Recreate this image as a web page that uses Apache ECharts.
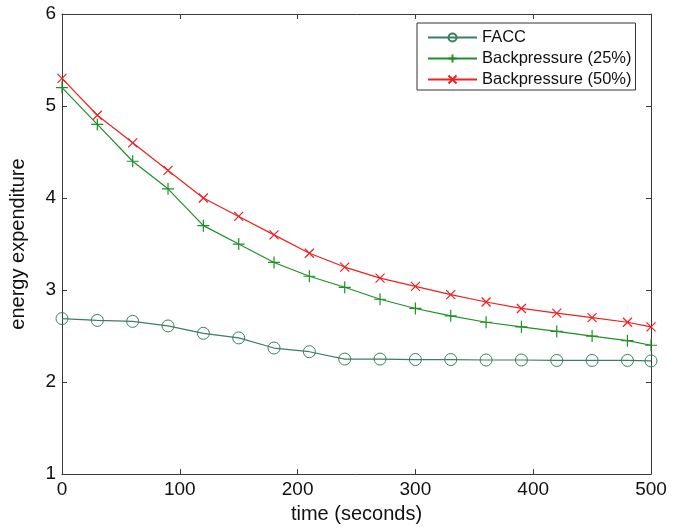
<!DOCTYPE html>
<html>
<head>
<meta charset="utf-8">
<script src="https://cdn.jsdelivr.net/npm/echarts@6/dist/echarts.min.js"></script>
<style>html,body{margin:0;padding:0;background:#fff}#c{width:683px;height:529px}</style>
</head>
<body>
<div id="c"></div>
<script>
var times = [0, 30, 60, 90, 120, 150, 180, 210, 240, 270, 300, 330, 360, 390, 420, 450, 480, 500];
var facc = [2.69, 2.67, 2.66, 2.61, 2.53, 2.48, 2.37, 2.33, 2.25, 2.25, 2.245, 2.245, 2.24, 2.24, 2.235, 2.235, 2.235, 2.23];
var bp25 = [5.2, 4.8, 4.4, 4.1, 3.7, 3.5, 3.3, 3.15, 3.03, 2.9, 2.8, 2.72, 2.65, 2.6, 2.55, 2.5, 2.45, 2.4];
var bp50 = [5.3, 4.9, 4.6, 4.3, 4.0, 3.8, 3.6, 3.4, 3.25, 3.13, 3.04, 2.95, 2.87, 2.8, 2.75, 2.7, 2.65, 2.6];
var seriesNames = ['FACC', 'Backpressure (25%)', 'Backpressure (50%)'];
var xTitle = 'time (seconds)';
var yTitle = 'energy expenditure';

function pairs(ys) { return times.map(function (t, i) { return [t, ys[i]]; }); }

var FONT = 'Liberation Sans';
var axisCol = '#3a3a3a';
var cFacc = '#3a7f62', c25 = '#1f8f26', c50 = '#ee2020';
var plusPath = 'path://M5,0 L5,10 M0,5 L10,5';
var crossPath = 'path://M0,0 L10,10 M0,10 L10,0';

var chart = echarts.init(document.getElementById('c'), null, {renderer: 'canvas'});
function secAxis(pos, isX) {
  return {
    type: 'value', position: pos, min: isX ? 0 : 1, max: isX ? 500 : 6, interval: isX ? 100 : 1,
    axisLine: {show: true, onZero: false, lineStyle: {color: axisCol, width: 1}},
    axisTick: {show: true, inside: true, length: 5, lineStyle: {color: axisCol}},
    axisLabel: {show: false}, splitLine: {show: false}
  };
}
chart.setOption({
  animation: false,
  backgroundColor: '#fff',
  textStyle: {fontFamily: FONT},
  grid: {left: 61, right: 32, top: 14, bottom: 52, containLabel: false},
  legend: {
    left: 417, top: 23, width: 220,
    orient: 'vertical',
    data: seriesNames,
    itemWidth: 49, itemHeight: 10, itemGap: 4,
    padding: [6, 4, 2, 10],
    borderColor: '#333', borderWidth: 1, backgroundColor: '#fff',
    textStyle: {fontFamily: FONT, fontSize: 16.5, color: '#111'}
  },
  xAxis: [{
    type: 'value', min: 0, max: 500, interval: 100,
    name: xTitle, nameLocation: 'middle', nameGap: 29,
    nameTextStyle: {fontFamily: FONT, fontSize: 20, color: '#111'},
    axisLine: {show: true, onZero: false, lineStyle: {color: axisCol, width: 1}},
    axisTick: {show: true, inside: true, length: 5, lineStyle: {color: axisCol}},
    axisLabel: {fontFamily: FONT, fontSize: 19, color: '#111', margin: 6},
    splitLine: {show: false}
  }, secAxis('top', true)],
  yAxis: [{
    type: 'value', min: 1, max: 6, interval: 1,
    name: yTitle, nameLocation: 'middle', nameGap: 34, nameRotate: 90,
    nameTextStyle: {fontFamily: FONT, fontSize: 20, color: '#111'},
    axisLine: {show: true, onZero: false, lineStyle: {color: axisCol, width: 1}},
    axisTick: {show: true, inside: true, length: 5, lineStyle: {color: axisCol}},
    axisLabel: {fontFamily: FONT, fontSize: 19, color: '#111', margin: 6},
    splitLine: {show: false}
  }, secAxis('right', false)],
  series: [
    {name: seriesNames[0], type: 'line', data: pairs(facc), symbol: 'circle', symbolSize: 12,
     lineStyle: {color: cFacc, width: 1.2}, itemStyle: {color: 'rgba(0,0,0,0)', borderColor: cFacc, borderWidth: 1}},
    {name: seriesNames[1], type: 'line', data: pairs(bp25), symbol: plusPath, symbolSize: 12,
     lineStyle: {color: c25, width: 1.2}, itemStyle: {color: 'rgba(0,0,0,0)', borderColor: c25, borderWidth: 1.2}},
    {name: seriesNames[2], type: 'line', data: pairs(bp50), symbol: crossPath, symbolSize: 9,
     lineStyle: {color: c50, width: 1.2}, itemStyle: {color: 'rgba(0,0,0,0)', borderColor: c50, borderWidth: 1.2}}
  ]
});
</script>
</body>
</html>
